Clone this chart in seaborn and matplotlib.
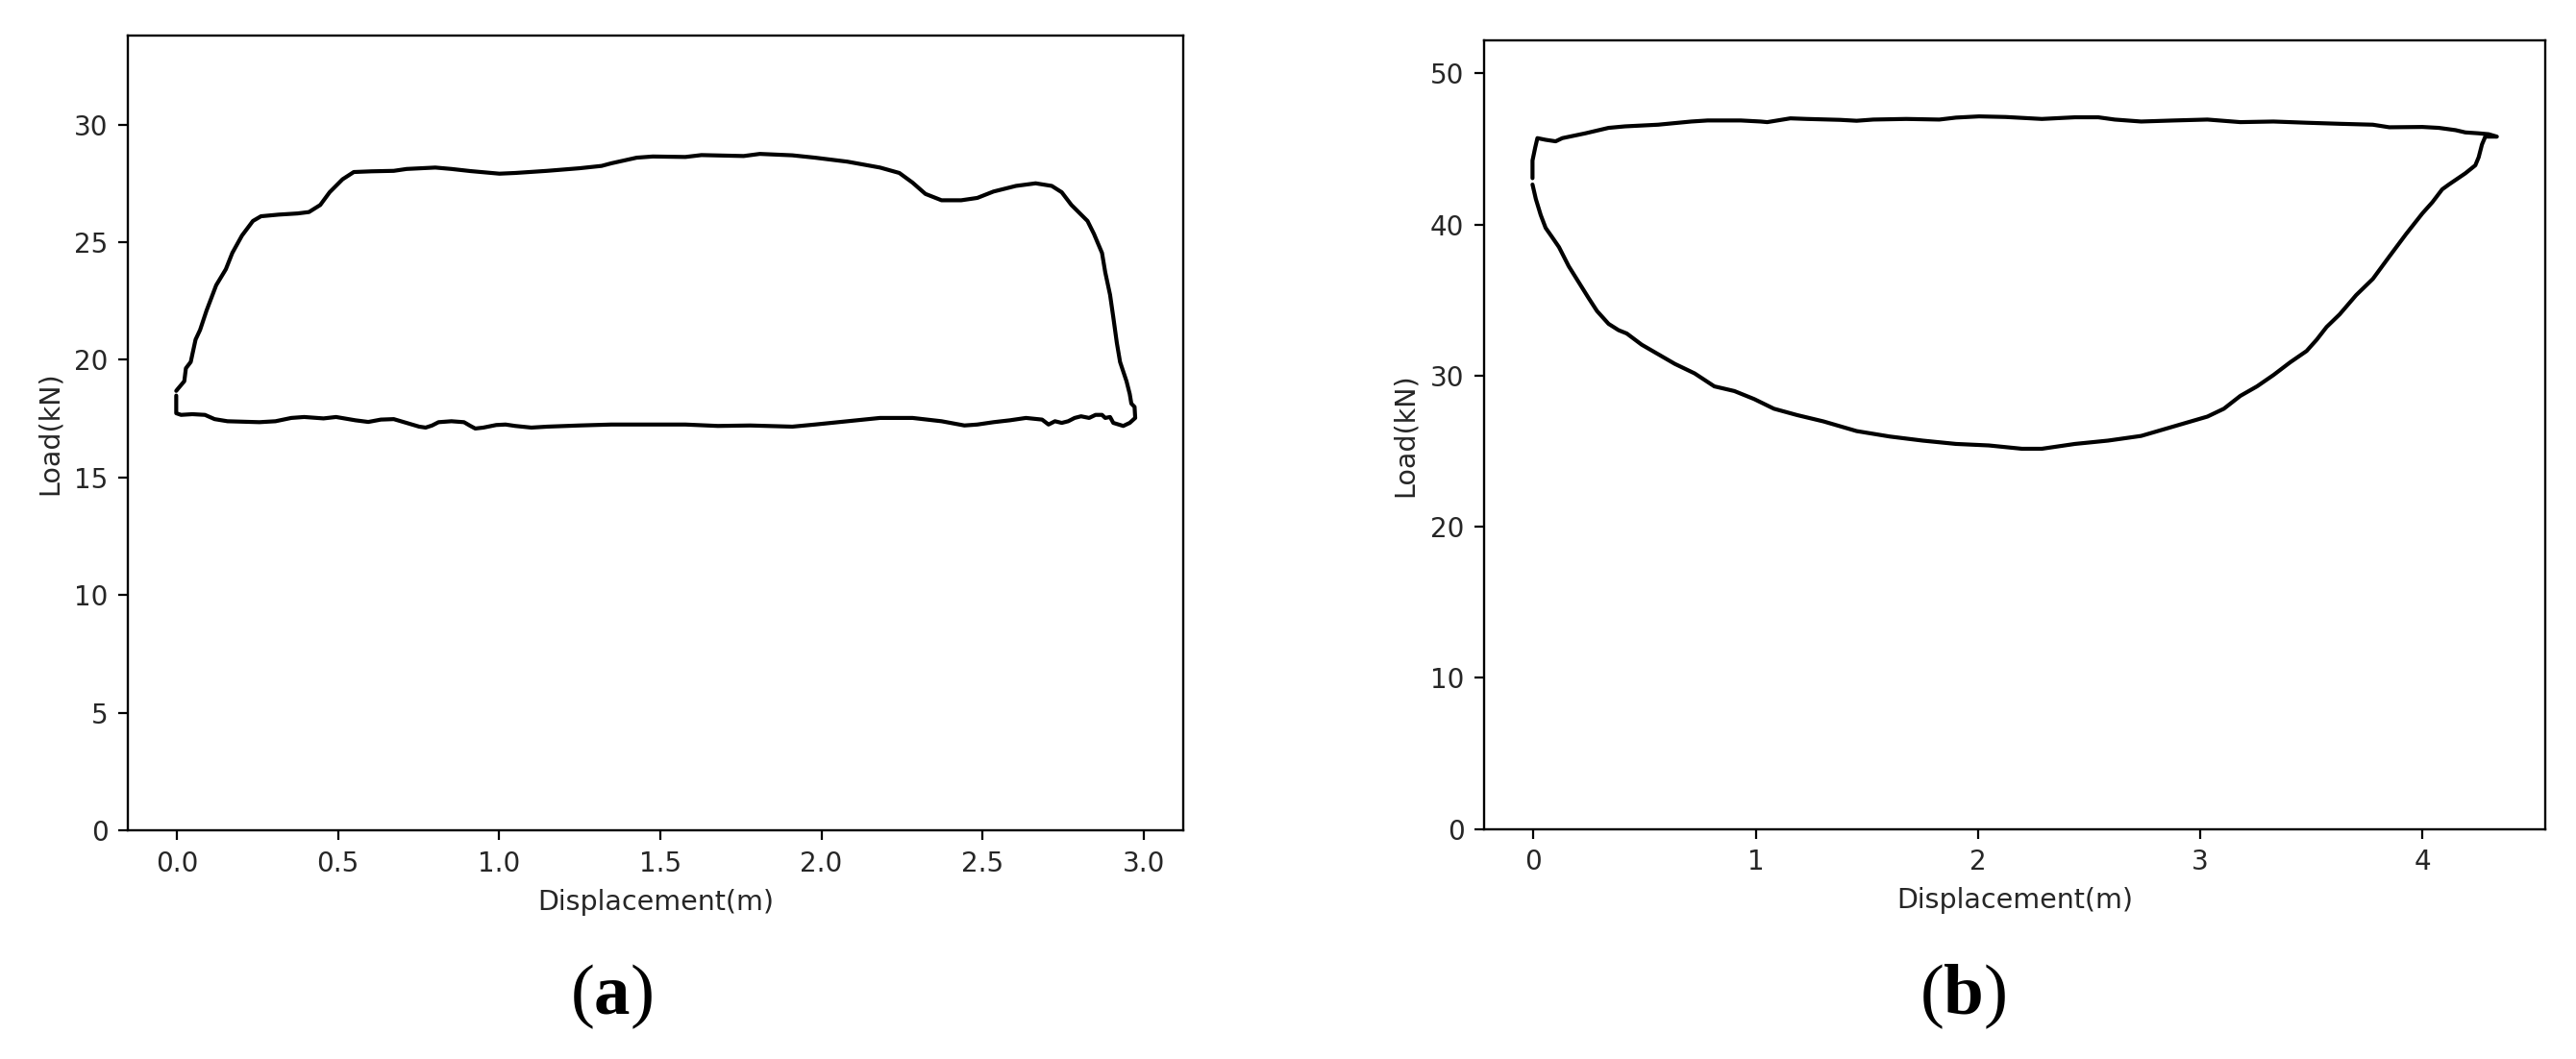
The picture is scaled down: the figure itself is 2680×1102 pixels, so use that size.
import numpy as np
import pandas as pd
import matplotlib
matplotlib.use('Agg')
import matplotlib.pyplot as plt
import seaborn as sns

# (a) load-displacement loop, in drawing order
disp_a = [-0.002, 0.002, 0.023, 0.028, 0.043, 0.058, 0.072, 0.092, 0.122, 0.152,
          0.172, 0.202, 0.236, 0.261, 0.316, 0.375, 0.410, 0.445, 0.474, 0.514,
          0.549, 0.604, 0.673, 0.713, 0.802, 0.852, 0.911, 1.001, 1.050, 1.149,
          1.249, 1.318, 1.348, 1.427, 1.477, 1.578, 1.628, 1.759, 1.809, 1.910,
          1.980, 2.081, 2.182, 2.242, 2.283, 2.323, 2.373, 2.434, 2.484, 2.534,
          2.604, 2.665, 2.715, 2.746, 2.776, 2.826, 2.846, 2.871, 2.881, 2.896,
          2.906, 2.917, 2.927, 2.947, 2.957, 2.962, 2.972, 2.974,
          2.957, 2.937, 2.906, 2.896, 2.881, 2.871, 2.851, 2.831, 2.806, 2.786,
          2.766, 2.746, 2.725, 2.705, 2.685, 2.635, 2.585, 2.534, 2.484, 2.444,
          2.373, 2.283, 2.182, 2.081, 1.980, 1.910, 1.779, 1.679, 1.578, 1.507,
          1.348, 1.249, 1.149, 1.100, 1.050, 1.020, 0.991, 0.951, 0.926, 0.911,
          0.891, 0.852, 0.812, 0.792, 0.772, 0.752, 0.713, 0.673, 0.633, 0.594,
          0.554, 0.494, 0.455, 0.395, 0.355, 0.306, 0.256, 0.157, 0.117, 0.087,
          0.048, 0.013, -0.002, -0.002, -0.002]
load_a = [18.68, 18.75, 19.09, 19.64, 19.91, 20.86, 21.27, 22.09, 23.17, 23.85,
          24.54, 25.28, 25.90, 26.10, 26.17, 26.22, 26.28, 26.58, 27.12, 27.67,
          27.98, 28.01, 28.03, 28.11, 28.17, 28.11, 28.02, 27.91, 27.94, 28.03,
          28.14, 28.24, 28.35, 28.59, 28.64, 28.62, 28.70, 28.66, 28.75, 28.69,
          28.59, 28.42, 28.17, 27.94, 27.53, 27.05, 26.78, 26.78, 26.88, 27.15,
          27.39, 27.50, 27.39, 27.12, 26.58, 25.90, 25.35, 24.54, 23.72, 22.76,
          21.81, 20.72, 19.91, 19.09, 18.55, 18.14, 18.00, 17.53,
          17.32, 17.19, 17.32, 17.57, 17.53, 17.66, 17.66, 17.53, 17.60, 17.53,
          17.39, 17.32, 17.39, 17.25, 17.46, 17.53, 17.43, 17.35, 17.25, 17.21,
          17.39, 17.53, 17.53, 17.39, 17.25, 17.16, 17.21, 17.19, 17.25, 17.25,
          17.25, 17.21, 17.16, 17.12, 17.19, 17.25, 17.23, 17.12, 17.08, 17.19,
          17.35, 17.39, 17.35, 17.21, 17.12, 17.16, 17.32, 17.48, 17.46, 17.36,
          17.43, 17.57, 17.51, 17.57, 17.53, 17.39, 17.35, 17.39, 17.48, 17.66,
          17.69, 17.66, 17.73, 18.14, 18.48]

# (b) load-displacement loop
disp_b = [-0.004, -0.004, 0.008, 0.018, 0.055, 0.100, 0.130, 0.234, 0.338, 0.412,
          0.561, 0.710, 0.784, 0.933, 1.022, 1.052, 1.156, 1.231, 1.380, 1.454,
          1.529, 1.677, 1.826, 1.901, 2.005, 2.124, 2.287, 2.436, 2.541, 2.615,
          2.734, 2.883, 3.032, 3.180, 3.329, 3.478, 3.627, 3.776, 3.850, 3.999,
          4.073, 4.148, 4.192, 4.252, 4.297, 4.334, 4.282, 4.267, 4.252, 4.237,
          4.192, 4.118, 4.088, 4.044, 3.999, 3.925, 3.850, 3.776, 3.701, 3.627,
          3.568, 3.523, 3.478, 3.404, 3.329, 3.255, 3.180, 3.106, 3.032, 2.883,
          2.734, 2.585, 2.436, 2.287, 2.198, 2.049, 1.901, 1.751, 1.603, 1.454,
          1.305, 1.186, 1.082, 0.993, 0.904, 0.814, 0.725, 0.636, 0.561, 0.487,
          0.420, 0.383, 0.338, 0.286, 0.249, 0.204, 0.159, 0.115, 0.085, 0.055,
          0.033, 0.011, -0.004]
load_b = [43.07, 44.24, 45.09, 45.72, 45.61, 45.51, 45.72, 46.04, 46.40, 46.50,
          46.61, 46.82, 46.89, 46.89, 46.82, 46.78, 47.03, 46.99, 46.93, 46.87,
          46.95, 46.99, 46.95, 47.08, 47.16, 47.12, 46.99, 47.10, 47.10, 46.95,
          46.82, 46.89, 46.95, 46.78, 46.82, 46.74, 46.67, 46.61, 46.44, 46.46,
          46.40, 46.25, 46.10, 46.04, 45.98, 45.82, 45.82, 45.30, 44.45, 43.92,
          43.39, 42.65, 42.33, 41.48, 40.74, 39.36, 37.88, 36.40, 35.33, 34.06,
          33.22, 32.37, 31.63, 30.88, 30.04, 29.29, 28.66, 27.81, 27.29, 26.65,
          26.01, 25.70, 25.48, 25.16, 25.16, 25.38, 25.48, 25.70, 25.97, 26.33,
          26.97, 27.39, 27.81, 28.45, 28.98, 29.29, 30.15, 30.78, 31.42, 32.05,
          32.79, 33.01, 33.43, 34.28, 35.12, 36.18, 37.24, 38.51, 39.15, 39.78,
          40.63, 41.69, 42.65]

xticks_a = [0.0, 0.5, 1.0, 1.5, 2.0, 2.5, 3.0]
yticks_a = [0, 5, 10, 15, 20, 25, 30]
xticks_b = [0, 1, 2, 3, 4]
yticks_b = [0, 10, 20, 30, 40, 50]
panel_tags = ['a', 'b']

sns.set_theme(style='ticks', rc={
    'axes.edgecolor': 'black',
    'axes.linewidth': 1.7,
    'xtick.color': 'black',
    'ytick.color': 'black',
    'xtick.labelcolor': '#262626',
    'ytick.labelcolor': '#262626',
    'axes.labelcolor': '#262626',
    'xtick.major.size': 7.5,
    'ytick.major.size': 7.5,
    'xtick.major.width': 1.6,
    'ytick.major.width': 1.6,
    'xtick.major.pad': 7.5,
    'ytick.major.pad': 7.5,
    'axes.labelpad': 8.5,
})
plt.rcParams['font.family'] = ['DejaVu Sans']
plt.rcParams['mathtext.fontset'] = 'custom'
plt.rcParams['mathtext.rm'] = 'Liberation Serif'
plt.rcParams['mathtext.bf'] = 'Liberation Serif:bold'

df_a = pd.DataFrame({'Displacement(m)': disp_a, 'Load(kN)': load_a})
df_b = pd.DataFrame({'Displacement(m)': disp_b, 'Load(kN)': load_b})

fig = plt.figure(figsize=(26.8, 11.02), dpi=100)
ax_a = fig.add_axes([0.0498, 0.2158, 0.4095, 0.7502])
ax_b = fig.add_axes([0.5762, 0.2173, 0.4118, 0.7447])

sns.lineplot(data=df_a, x='Displacement(m)', y='Load(kN)', sort=False,
             estimator=None, color='black', linewidth=3.0, ax=ax_a)
sns.lineplot(data=df_b, x='Displacement(m)', y='Load(kN)', sort=False,
             estimator=None, color='black', linewidth=3.0, ax=ax_b)

ax_a.set_ylim(0, 33.76)
ax_a.set_xticks(xticks_a)
ax_a.set_yticks(yticks_a)
ax_b.set_ylim(0, 52.2)
ax_b.set_xticks(xticks_b)
ax_b.set_yticks(yticks_b)

for ax in (ax_a, ax_b):
    ax.tick_params(labelsize=20)
    ax.set_xlabel('Displacement(m)', fontsize=20.5)
    ax.set_ylabel('Load(kN)', fontsize=20.5)

fig.text(0.2373, 0.059, r'($\mathbf{%s}$)' % panel_tags[0], family='Liberation Serif',
         fontsize=54, ha='center', va='center', color='black')
fig.text(0.7620, 0.059, r'($\mathbf{%s}$)' % panel_tags[1], family='Liberation Serif',
         fontsize=54, ha='center', va='center', color='black')

fig.savefig('out.png', dpi=100)
